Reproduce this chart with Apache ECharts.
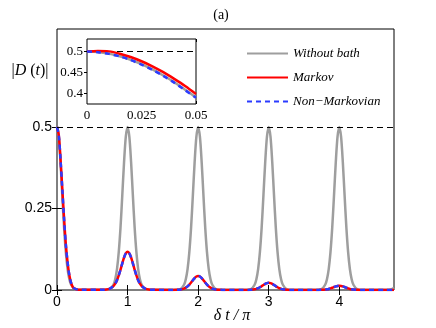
<!DOCTYPE html>
<html>
<head>
<meta charset="utf-8">
<script src="https://cdn.jsdelivr.net/npm/echarts@6/dist/echarts.min.js"></script>
<style>
html, body { margin: 0; padding: 0; background: #fff; }
#chart { width: 436px; height: 328px; }
</style>
</head>
<body>
<div id="chart"></div>
<script>
// main panel: [delta t / pi, |D(t)|]
var withoutBath = [
    [0, 0.5], [0.025, 0.47], [0.05, 0.391], [0.075, 0.29], [0.1, 0.192], [0.125, 0.116], [0.15, 0.064], [0.175, 0.033], [0.2, 0.016], [0.25, 0.003], [0.3, 0.001],
    [0.7, 0.001], [0.75, 0.003], [0.8, 0.016], [0.825, 0.033], [0.85, 0.064], [0.875, 0.116], [0.9, 0.192], [0.925, 0.29], [0.95, 0.391], [0.975, 0.47], [1, 0.5],
    [1.025, 0.47], [1.05, 0.391], [1.075, 0.29], [1.1, 0.192], [1.125, 0.116], [1.15, 0.064], [1.175, 0.033], [1.2, 0.016], [1.25, 0.003], [1.3, 0.001],
    [1.7, 0.001], [1.75, 0.003], [1.8, 0.016], [1.825, 0.033], [1.85, 0.064], [1.875, 0.116], [1.9, 0.192], [1.925, 0.29], [1.95, 0.391], [1.975, 0.47], [2, 0.5],
    [2.025, 0.47], [2.05, 0.391], [2.075, 0.29], [2.1, 0.192], [2.125, 0.116], [2.15, 0.064], [2.175, 0.033], [2.2, 0.016], [2.25, 0.003], [2.3, 0.001],
    [2.7, 0.001], [2.75, 0.003], [2.8, 0.016], [2.825, 0.033], [2.85, 0.064], [2.875, 0.116], [2.9, 0.192], [2.925, 0.29], [2.95, 0.391], [2.975, 0.47], [3, 0.5],
    [3.025, 0.47], [3.05, 0.391], [3.075, 0.29], [3.1, 0.192], [3.125, 0.116], [3.15, 0.064], [3.175, 0.033], [3.2, 0.016], [3.25, 0.003], [3.3, 0.001],
    [3.7, 0.001], [3.75, 0.003], [3.8, 0.016], [3.825, 0.033], [3.85, 0.064], [3.875, 0.116], [3.9, 0.192], [3.925, 0.29], [3.95, 0.391], [3.975, 0.47], [4, 0.5],
    [4.025, 0.47], [4.05, 0.391], [4.075, 0.29], [4.1, 0.192], [4.125, 0.116], [4.15, 0.064], [4.175, 0.033], [4.2, 0.016], [4.25, 0.003], [4.3, 0.001],
    [4.7, 0.001], [4.75, 0.003], [4.775, 0.007]
]

var markov = [
    [0, 0.5], [0.025, 0.475], [0.05, 0.4], [0.075, 0.31], [0.1, 0.22], [0.125, 0.14], [0.15, 0.085], [0.175, 0.045], [0.2, 0.022], [0.225, 0.009], [0.25, 0.004], [0.3, 0.001], [0.35, 0.0005],
    [0.65, 0.0006], [0.7, 0.0015], [0.75, 0.0043], [0.8, 0.0119], [0.825, 0.0193], [0.85, 0.0301], [0.875, 0.0446], [0.9, 0.0622], [0.925, 0.0817], [0.95, 0.0996], [0.975, 0.112], [1, 0.117],
    [1.025, 0.112], [1.05, 0.0996], [1.075, 0.0817], [1.1, 0.0622], [1.125, 0.0446], [1.15, 0.0301], [1.175, 0.0193], [1.2, 0.0119], [1.25, 0.0043], [1.3, 0.0015], [1.35, 0.0006],
    [1.65, 0.0002], [1.7, 0.0006], [1.75, 0.0016], [1.8, 0.0044], [1.825, 0.0071], [1.85, 0.011], [1.875, 0.0164], [1.9, 0.0229], [1.925, 0.03], [1.95, 0.0366], [1.975, 0.0413], [2, 0.043],
    [2.025, 0.0413], [2.05, 0.0366], [2.075, 0.03], [2.1, 0.0229], [2.125, 0.0164], [2.15, 0.011], [2.175, 0.0071], [2.2, 0.0044], [2.25, 0.0016], [2.3, 0.0006], [2.35, 0.0002],
    [2.65, 0.0001], [2.7, 0.0003], [2.75, 0.0008], [2.8, 0.0022], [2.825, 0.0036], [2.85, 0.0057], [2.875, 0.0084], [2.9, 0.0117], [2.925, 0.0154], [2.95, 0.0187], [2.975, 0.0211], [3, 0.022],
    [3.025, 0.0211], [3.05, 0.0187], [3.075, 0.0154], [3.1, 0.0117], [3.125, 0.0084], [3.15, 0.0057], [3.175, 0.0036], [3.2, 0.0022], [3.25, 0.0008], [3.3, 0.0003], [3.35, 0.0001],
    [3.65, 0.0001], [3.7, 0.0002], [3.75, 0.0005], [3.8, 0.0013], [3.825, 0.0021], [3.85, 0.0033], [3.875, 0.005], [3.9, 0.0069], [3.925, 0.0091], [3.95, 0.0111], [3.975, 0.0125], [4, 0.013],
    [4.025, 0.0125], [4.05, 0.0111], [4.075, 0.0091], [4.1, 0.0069], [4.125, 0.005], [4.15, 0.0033], [4.175, 0.0021], [4.2, 0.0013], [4.25, 0.0005], [4.3, 0.0002], [4.35, 0.0001],
    [4.65, 0.0001], [4.775, 0.0003]
]

// on the main axes the non-Markovian curve sits right on top of the Markov one
var nonMarkov = markov

// inset: short-time zoom
var insetX = [0, 0.005, 0.01, 0.015, 0.02, 0.025, 0.03, 0.035, 0.04, 0.045, 0.05]
var insetWithout = [0.5, 0.4988, 0.4951, 0.489, 0.4806, 0.4701, 0.4575, 0.443, 0.427, 0.409, 0.3906]
var insetMarkov = [0.5, 0.5015, 0.5005, 0.495, 0.487, 0.477, 0.465, 0.451, 0.435, 0.418, 0.399]
var insetNonMarkov = [0.5, 0.4985, 0.4945, 0.4885, 0.48, 0.469, 0.4565, 0.442, 0.426, 0.408, 0.39]

var mainXTicks = [0, 1, 2, 3, 4]
var mainYTicks = [0, 0.25, 0.5]
var insetXTicks = [0, 0.025, 0.05]
var insetYTicks = [0.4, 0.45, 0.5]

var names = ['Without bath', 'Markov', 'Non\u2212Markovian']

var pair = function (xs, ys) {
    return xs.map(function (x, i) { return [x, ys[i]] })
}

var sans = 'Liberation Sans'
var serif = 'Liberation Serif'

var dash05 = {
    silent: true,
    symbol: 'none',
    label: { show: false },
    lineStyle: { color: '#000', type: [6, 4], width: 1 },
    data: [{ yAxis: 0.5 }]
}

var chart = echarts.init(document.getElementById('chart'))
var option = {
    animation: false,
    backgroundColor: '#fff',
    grid: [
        { left: 57, top: 29, width: 337, height: 261, show: true, borderColor: '#000', borderWidth: 1, backgroundColor: 'transparent' },
        { left: 87, top: 39, width: 109, height: 65, show: true, borderColor: '#000', borderWidth: 1, backgroundColor: '#fff', z: 5 }
    ],
    legend: {
        data: names,
        orient: 'vertical',
        left: 241,
        top: 42,
        itemWidth: 41,
        itemHeight: 14,
        itemGap: 11,
        itemStyle: { opacity: 0 },
        textStyle: { fontFamily: serif, fontStyle: 'italic', fontSize: 13, color: '#000' }
    },
    xAxis: [
        {
            type: 'value', gridIndex: 0, min: 0, max: 4.775,
            axisLine: { show: false },
            splitLine: { show: false },
            axisTick: { inside: true, length: 5, lineStyle: { color: '#000' }, customValues: mainXTicks },
            axisLabel: { margin: 5, color: '#000', fontFamily: sans, fontSize: 14, customValues: mainXTicks }
        },
        {
            type: 'value', gridIndex: 0, min: 0, max: 4.775, position: 'top',
            axisLine: { show: false },
            splitLine: { show: false },
            axisTick: { inside: true, length: 5, lineStyle: { color: '#000' }, customValues: mainXTicks },
            axisLabel: { show: false }
        },
        {
            type: 'value', gridIndex: 1, min: 0, max: 0.05,
            axisLine: { show: false },
            splitLine: { show: false },
            axisTick: { inside: true, length: 3, lineStyle: { color: '#000' }, customValues: insetXTicks },
            axisLabel: { margin: 5, color: '#000', fontFamily: serif, fontSize: 13, customValues: insetXTicks }
        },
        {
            type: 'value', gridIndex: 1, min: 0, max: 0.05, position: 'top',
            axisLine: { show: false },
            splitLine: { show: false },
            axisTick: { inside: true, length: 3, lineStyle: { color: '#000' }, customValues: insetXTicks },
            axisLabel: { show: false }
        }
    ],
    yAxis: [
        {
            type: 'value', gridIndex: 0, min: 0, max: 0.8,
            axisLine: { show: false },
            splitLine: { show: false },
            axisTick: { show: true, inside: true, length: 5, lineStyle: { color: '#000' }, customValues: mainYTicks },
            axisLabel: { margin: 5, color: '#000', fontFamily: sans, fontSize: 14, customValues: mainYTicks }
        },
        {
            type: 'value', gridIndex: 0, min: 0, max: 0.8, position: 'right',
            axisLine: { show: false },
            splitLine: { show: false },
            axisTick: { show: true, inside: true, length: 5, lineStyle: { color: '#000' }, customValues: mainYTicks },
            axisLabel: { show: false }
        },
        {
            type: 'value', gridIndex: 1, min: 0.375, max: 0.53,
            axisLine: { show: false },
            splitLine: { show: false },
            axisTick: { show: true, inside: true, length: 3, lineStyle: { color: '#000' }, customValues: insetYTicks },
            axisLabel: { margin: 4, color: '#000', fontFamily: serif, fontSize: 13, customValues: insetYTicks }
        },
        {
            type: 'value', gridIndex: 1, min: 0.375, max: 0.53, position: 'right',
            axisLine: { show: false },
            splitLine: { show: false },
            axisTick: { show: true, inside: true, length: 3, lineStyle: { color: '#000' }, customValues: insetYTicks },
            axisLabel: { show: false }
        }
    ],
    series: [
        {
            name: names[0], type: 'line', xAxisIndex: 0, yAxisIndex: 0,
            data: withoutBath, symbol: 'none', smooth: 0.3, z: 2,
            lineStyle: { color: '#9e9e9e', width: 2.5 },
            itemStyle: { color: '#9e9e9e' },
            markLine: dash05
        },
        {
            name: names[1], type: 'line', xAxisIndex: 0, yAxisIndex: 0,
            data: markov, symbol: 'none', smooth: 0.3, z: 3,
            lineStyle: { color: '#ff0000', width: 2.5 },
            itemStyle: { color: '#ff0000' }
        },
        {
            name: names[2], type: 'line', xAxisIndex: 0, yAxisIndex: 0,
            data: nonMarkov, symbol: 'none', smooth: 0.3, z: 4,
            lineStyle: { color: '#2b3bff', width: 2.5, type: [5, 4] },
            itemStyle: { color: '#2b3bff' }
        },
        {
            name: names[0], type: 'line', xAxisIndex: 2, yAxisIndex: 2,
            data: pair(insetX, insetWithout), symbol: 'none', smooth: 0.3, z: 6,
            lineStyle: { color: '#9e9e9e', width: 2.5 },
            markLine: dash05
        },
        {
            name: names[1], type: 'line', xAxisIndex: 2, yAxisIndex: 2,
            data: pair(insetX, insetMarkov), symbol: 'none', smooth: 0.3, z: 7,
            lineStyle: { color: '#ff0000', width: 2.5 }
        },
        {
            name: names[2], type: 'line', xAxisIndex: 2, yAxisIndex: 2,
            data: pair(insetX, insetNonMarkov), symbol: 'none', smooth: 0.3, z: 8,
            lineStyle: { color: '#2b3bff', width: 2.5, type: [5, 4] }
        }
    ],
    graphic: [
        {
            type: 'text', x: 221, y: 15,
            style: { text: '(a)', font: '14px "Liberation Serif"', fill: '#000', align: 'center', verticalAlign: 'middle' }
        },
        {
            type: 'text', x: 30, y: 71,
            style: {
                text: '|{i|D} ({i|t})|',
                font: '16px "Liberation Serif"', fill: '#000', align: 'center', verticalAlign: 'middle',
                rich: { i: { fontFamily: serif, fontStyle: 'italic', fontSize: 16, fill: '#000' } }
            }
        },
        {
            type: 'text', x: 232, y: 316,
            style: { text: '\u03b4 t / \u03c0', font: 'italic 16px "Liberation Serif"', fill: '#000', align: 'center', verticalAlign: 'middle' }
        }
    ]
}

chart.setOption(option, true)
</script>
</body>
</html>
